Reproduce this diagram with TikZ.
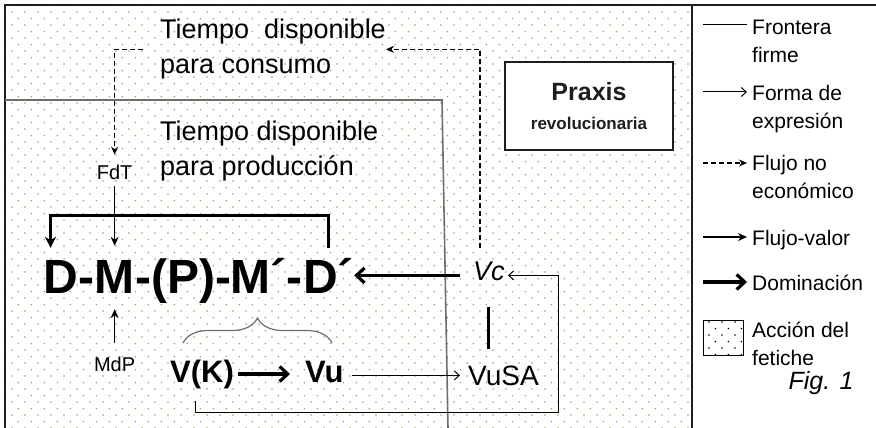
\documentclass[tikz,border=0pt]{standalone}
\usepackage{fontspec}
\setmainfont{Liberation Sans}
\usetikzlibrary{arrows.meta,positioning,patterns,decorations.pathreplacing}
\definecolor{dotc}{RGB}{170,152,100}
\definecolor{frgray}{RGB}{110,110,110}
\definecolor{ink}{RGB}{30,30,30}
\newcommand{\fz}[2]{\fontsize{#1}{#2}\selectfont}
\pgfdeclarepatternformonly{fdots}{\pgfqpoint{-1pt}{-1pt}}{\pgfqpoint{12.4pt}{12.4pt}}{\pgfqpoint{13.4pt}{13.4pt}}{%
  \pgfpathcircle{\pgfqpoint{0pt}{0pt}}{0.9pt}%
  \pgfpathcircle{\pgfqpoint{6.7pt}{6.7pt}}{0.9pt}%
  \pgfusepath{fill}}
\tikzset{
  cyc/.style  ={font=\fz{48}{52}\bfseries,inner sep=0pt,anchor=base west},
  txt/.style  ={font=\fz{27}{35},align=left,inner sep=0pt,anchor=north west},
  sm/.style   ={font=\fz{20}{24},inner sep=0pt},
  val/.style  ={font=\fz{31}{36}\bfseries,inner sep=0pt,anchor=base west},
  leg/.style  ={font=\fz{21}{28},align=left,inner sep=0pt,anchor=north west},
  fr/.style   ={line width=1.6pt,frgray},
  fe/.style   ={line width=1pt,-{Straight Barb[length=5pt,width=9pt]}},
  nef/.style  ={line width=1.2pt,dash pattern=on 5pt off 3pt,-{Stealth[length=8pt,width=7pt]}},
  fv/.style   ={line width=1.3pt,-{Stealth[length=9pt,width=8pt]}},
  dom/.style  ={line width=3.2pt,-{Straight Barb[length=8pt,width=15pt]}},
  brk/.style  ={line width=2.6pt,-{Stealth[length=11pt,width=11pt]}},
  vbar/.style ={line width=3pt},
  brc/.style  ={decorate,decoration={brace,amplitude=25pt},line width=1.2pt,frgray},
}

\begin{document}
\begin{tikzpicture}[x=1pt,y=-1pt]
\useasboundingbox (0,0) rectangle (876,428);
\fill[pattern=fdots,pattern color=dotc] (5,5) rectangle (692,428);
\draw[line width=1.4pt,ink] (876,5) -- (5,5) -- (5,428);
\draw[line width=1.4pt,ink] (692,5) -- (692,428);
\draw[fr] (5,100) -- (442,100) -- (448,428);
% circuito D-M-(P)-M'-D'
\node[cyc] (D1) at (43,293) {D};
\node[cyc] (h1) at (D1.base east) {-};
\node[cyc] (M1) at (h1.base east) {M};
\node[cyc] (mid) at (M1.base east) {-(P)-M´-};
\node[cyc] (D2) at (mid.base east) {D´};
\node[sm,above=80pt of M1] (FdT) {FdT};
\node[sm,below=64pt of M1] (MdP) {MdP};
\node[txt] (tc) at (160,19) {Tiempo\ \ disponible\\para consumo};
\node[txt] (tp) at (160,121) {Tiempo disponible\\para producción};
\node[val] (VK) at (170,382) {V(K)};
\node[val] (Vu) at (305,382) {Vu};
\node[font=\fz{28}{32},inner sep=0pt,anchor=base west] (VuSA) at (468,385) {VuSA};
\node[font=\fz{27}{32}\itshape,inner sep=0pt,anchor=base west] (Vc) at (473,280) {Vc};
\node[draw,line width=1.2pt,ink,fill=white,minimum width=168pt,minimum height=88pt,align=center,
  font=\fz{25}{29}\bfseries] (px) at (589,106)
  {Praxis\\{\fz{17}{20}\bfseries revolucionaria}};
% flujos
\draw[brk] ([yshift=10pt]D2.north) -- ++(0,-32) -| ([xshift=-10pt,yshift=12pt]D1.north);
\draw[nef,shorten <=17pt,shorten >=10pt] (tc.west) -| (FdT.north);
\draw[fv,shorten <=6pt,shorten >=14pt] (FdT) -- (M1);
\draw[fv,shorten <=14pt,shorten >=16pt] (MdP) -- (M1);
\draw[dom,shorten <=13pt] (D2.east -| Vc.west) -- (D2.east);
\draw[vbar,shorten <=27pt,shorten >=16pt] (Vc.south) -- (Vc.south |- VuSA.north);
\draw[fe,shorten <=8pt,shorten >=8pt] (VuSA.west -| Vu.east) -- (VuSA.west);
\draw[dom,shorten <=4pt,shorten >=15pt] (VK.east) -- (VK.east -| Vu.west);
\coordinate (lp) at (558,412);
\draw[fe,shorten >=3pt] ([shift={(25,12)}]VK.south west) |- (lp) |- (Vc.east |- D2.east);
\draw[nef,shorten <=13pt] ([xshift=-9pt]Vc.north) |- (tc.east);
\draw[brc] (183,343) -- (332,343);
% leyenda
\node[leg] (lg1) at (752,20) {Frontera\\firme};
\node[leg] (lg2) at (752,85) {Forma de\\expresión};
\node[leg] (lg3) at (752,155) {Flujo no\\económico};
\node[leg] (lg4) at (752,230) {Flujo-valor};
\node[leg] (lg5) at (752,275) {Dominación};
\node[leg] (lg6) at (752,322) {Acción del\\fetiche};
\node[font=\fz{25}{28}\itshape,inner sep=0pt] (fig) at (821,383) {Fig. 1};
\draw[line width=1pt] ([xshift=-49pt,yshift=-5pt]lg1.north west) -- ++(44,0);
\draw[fe] ([xshift=-49pt,yshift=-7pt]lg2.north west) -- ++(44,0);
\draw[nef] ([xshift=-49pt,yshift=-8pt]lg3.north west) -- ++(44,0);
\draw[fv] ([xshift=-49pt,yshift=-7pt]lg4.north west) -- ++(44,0);
\draw[dom] ([xshift=-49pt,yshift=-7pt]lg5.north west) -- ++(44,0);
\draw[line width=1pt,pattern=fdots] ([xshift=-49pt,yshift=2pt]lg6.north west) rectangle ++(40,35);
\end{tikzpicture}
\end{document}
